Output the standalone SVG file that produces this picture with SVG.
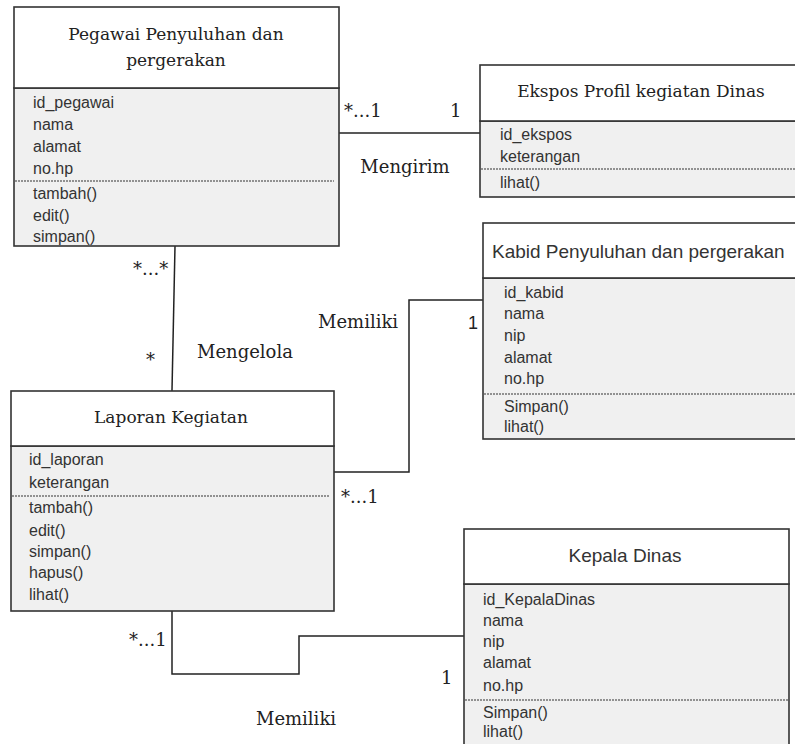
<svg xmlns="http://www.w3.org/2000/svg" width="795" height="744" viewBox="0 0 795 744">
<style>
.hdr{fill:#ffffff;stroke:#333;stroke-width:1.6}
.cmp{fill:#f0f0f0;stroke:#333;stroke-width:1.6}
.dash{stroke:#333;stroke-width:1;stroke-dasharray:2,1;fill:none}
.ts{font-family:"DejaVu Serif","Liberation Serif",serif;font-size:17px;fill:#222}
.tsa{font-family:"Liberation Sans",Arial,sans-serif;font-size:19px;fill:#333}
.at{font-family:"Liberation Sans",Arial,sans-serif;font-size:16px;fill:#333}
.lb{font-family:"DejaVu Serif","Liberation Serif",serif;font-size:18px;fill:#222}
.n1{font-family:"Liberation Sans",Arial,sans-serif;font-size:18px;fill:#222}
.conn{stroke:#222;stroke-width:1.5;fill:none}
</style>
<rect width="795" height="744" fill="#fff"/>
<g id="connectors">
<line class="conn" x1="335" y1="133" x2="480" y2="133"/>
<line class="conn" x1="175" y1="246" x2="172" y2="391"/>
<polyline class="conn" points="328,472 409,472 409,300 483,300"/>
<polyline class="conn" points="172,611 172,674 299,674 299,636 464,636"/>
</g>
<g id="pegawai">
<rect class="cmp" x="14" y="88" width="325" height="158"/>
<rect class="hdr" x="14" y="7" width="325" height="81"/>
<text class="ts" x="176" y="40" text-anchor="middle">Pegawai Penyuluhan dan</text>
<text class="ts" x="176" y="66" text-anchor="middle">pergerakan</text>
<line class="dash" x1="15" y1="181" x2="334" y2="181"/>
<text class="at" x="33" y="108">id_pegawai</text>
<text class="at" x="33" y="130">nama</text>
<text class="at" x="33" y="152">alamat</text>
<text class="at" x="33" y="174">no.hp</text>
<text class="at" x="33" y="199">tambah()</text>
<text class="at" x="33" y="221">edit()</text>
<text class="at" x="33" y="242">simpan()</text>
</g>
<g id="ekspos">
<rect class="cmp" x="480" y="121" width="330" height="76"/>
<rect class="hdr" x="480" y="65" width="330" height="56"/>
<text class="ts" x="641" y="97" text-anchor="middle">Ekspos Profil kegiatan Dinas</text>
<line class="dash" x1="481" y1="169" x2="800" y2="169"/>
<text class="at" x="500" y="140">id_ekspos</text>
<text class="at" x="500" y="162">keterangan</text>
<text class="at" x="500" y="188">lihat()</text>
</g>
<g id="kabid">
<rect class="cmp" x="483" y="278" width="330" height="161"/>
<rect class="hdr" x="483" y="223" width="330" height="55"/>
<text class="tsa" x="492" y="258">Kabid Penyuluhan dan pergerakan</text>
<line class="dash" x1="484" y1="394" x2="800" y2="394"/>
<text class="at" x="504" y="298">id_kabid</text>
<text class="at" x="504" y="319">nama</text>
<text class="at" x="504" y="341">nip</text>
<text class="at" x="504" y="363">alamat</text>
<text class="at" x="504" y="384">no.hp</text>
<text class="at" x="504" y="412">Simpan()</text>
<text class="at" x="504" y="432">lihat()</text>
</g>
<g id="laporan">
<rect class="cmp" x="11" y="446" width="323" height="165"/>
<rect class="hdr" x="11" y="391" width="323" height="55"/>
<text class="ts" x="171" y="423" text-anchor="middle">Laporan Kegiatan</text>
<line class="dash" x1="12" y1="496" x2="330" y2="496"/>
<text class="at" x="29" y="465">id_laporan</text>
<text class="at" x="29" y="488">keterangan</text>
<text class="at" x="29" y="513">tambah()</text>
<text class="at" x="29" y="536">edit()</text>
<text class="at" x="29" y="557">simpan()</text>
<text class="at" x="29" y="578">hapus()</text>
<text class="at" x="29" y="600">lihat()</text>
</g>
<g id="kepala">
<rect class="cmp" x="464" y="584" width="325" height="170"/>
<rect class="hdr" x="464" y="529" width="325" height="55"/>
<text class="tsa" x="625" y="562" text-anchor="middle">Kepala Dinas</text>
<line class="dash" x1="465" y1="700" x2="788" y2="700"/>
<text class="at" x="483" y="605">id_KepalaDinas</text>
<text class="at" x="483" y="626">nama</text>
<text class="at" x="483" y="647">nip</text>
<text class="at" x="483" y="668">alamat</text>
<text class="at" x="483" y="691">no.hp</text>
<text class="at" x="483" y="718">Simpan()</text>
<text class="at" x="483" y="737">lihat()</text>
</g>
<g id="labels">
<text class="lb" x="344" y="117">*...1</text>
<text class="lb" x="450" y="117">1</text>
<text class="lb" x="405" y="173" text-anchor="middle">Mengirim</text>
<text class="lb" x="133" y="275">*...*</text>
<text class="lb" x="146" y="366">*</text>
<text class="lb" x="197" y="358">Mengelola</text>
<text class="lb" x="318" y="328">Memiliki</text>
<text class="n1" x="468" y="329">1</text>
<text class="lb" x="341" y="503">*...1</text>
<text class="lb" x="129" y="646">*...1</text>
<text class="lb" x="441" y="684">1</text>
<text class="lb" x="296" y="725" text-anchor="middle">Memiliki</text>
</g>
</svg>
